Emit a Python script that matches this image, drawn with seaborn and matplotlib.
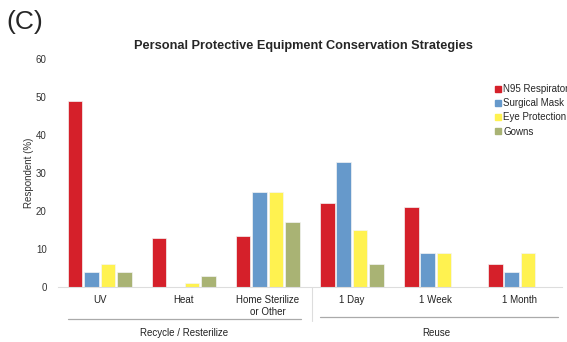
import matplotlib
matplotlib.use("Agg")
import matplotlib.pyplot as plt
import seaborn as sns
import pandas as pd
from matplotlib.lines import Line2D

categories = ["UV", "Heat", "Home Sterilize\nor Other", "1 Day", "1 Week", "1 Month"]
series = ["N95 Respirator", "Surgical Mask", "Eye Protection", "Gowns"]
n95 = [49, 13, 13.5, 22, 21, 6]
surgical = [4, 0, 25, 33, 9, 4]
eye = [6, 1, 25, 15, 9, 9]
gowns = [4, 3, 17, 6, 0, 0]
groups = ["Recycle / Resterilize", "Reuse"]
colors = ["#D5202A", "#6699CB", "#FFF250", "#A9B374"]

rows = []
for s, vals in zip(series, [n95, surgical, eye, gowns]):
    for c, v in zip(categories, vals):
        rows.append({"cat": c, "series": s, "val": v})
df = pd.DataFrame(rows)

sns.set_style("white")
plt.rcParams['font.family'] = ['Liberation Sans', 'DejaVu Sans']

fig = plt.figure(figsize=(5.67, 3.42), dpi=100)
ax = fig.add_axes([0.102, 0.161, 0.889, 0.666])
sns.barplot(data=df, x="cat", y="val", hue="series", order=categories,
            hue_order=series, palette=colors, saturation=1, width=0.78, gap=0.12,
            edgecolor="#f4f4f4", linewidth=0.5, ax=ax, legend=False)

ax.set_ylim(0, 60)
ax.set_xlim(-0.5, 5.5)
ax.set_yticks([0, 10, 20, 30, 40, 50, 60])
ax.tick_params(axis='y', labelsize=7, colors="#333333", length=0, pad=8)
ax.tick_params(axis='x', labelsize=7, colors="#222222", length=0, pad=6)
ax.set_xlabel("")
ax.set_ylabel("Respondent (%)", fontsize=7, color="#333333", labelpad=1)
for sp in ["top", "right", "left"]:
    ax.spines[sp].set_visible(False)
ax.spines["bottom"].set_color("#dddddd")
ax.spines["bottom"].set_linewidth(0.8)

# group separator and underlines
trans = ax.get_xaxis_transform()
ax.add_line(Line2D([2.52, 2.52], [0, -0.15], transform=trans, color="#dddddd",
                   lw=0.8, clip_on=False))
ax.add_line(Line2D([-0.38, 2.4], [-0.14, -0.14], transform=trans, color="#aaaaaa",
                   lw=0.9, clip_on=False))
ax.add_line(Line2D([2.62, 5.45], [-0.13, -0.13], transform=trans, color="#aaaaaa",
                   lw=0.9, clip_on=False))
ax.text(1.0, -0.18, groups[0], transform=trans, ha="center", va="top", fontsize=7,
        color="#222222")
ax.text(4.0, -0.18, groups[1], transform=trans, ha="center", va="top", fontsize=7,
        color="#222222")

handles = [plt.Rectangle((0, 0), 1, 1, color=c) for c in colors]
fig.legend(handles, series, loc="upper left", bbox_to_anchor=(0.866, 0.765),
           frameon=False, fontsize=7, handlelength=0.6, handleheight=0.6,
           handletextpad=0.25, labelspacing=0.42, borderaxespad=0)

fig.text(0.535, 0.866, "Personal Protective Equipment Conservation Strategies",
         ha="center", va="center", fontsize=9.2, fontweight="bold")
fig.text(0.012, 0.935, "(C)", ha="left", va="center", fontsize=19)

fig.savefig("out.png", dpi=100)
